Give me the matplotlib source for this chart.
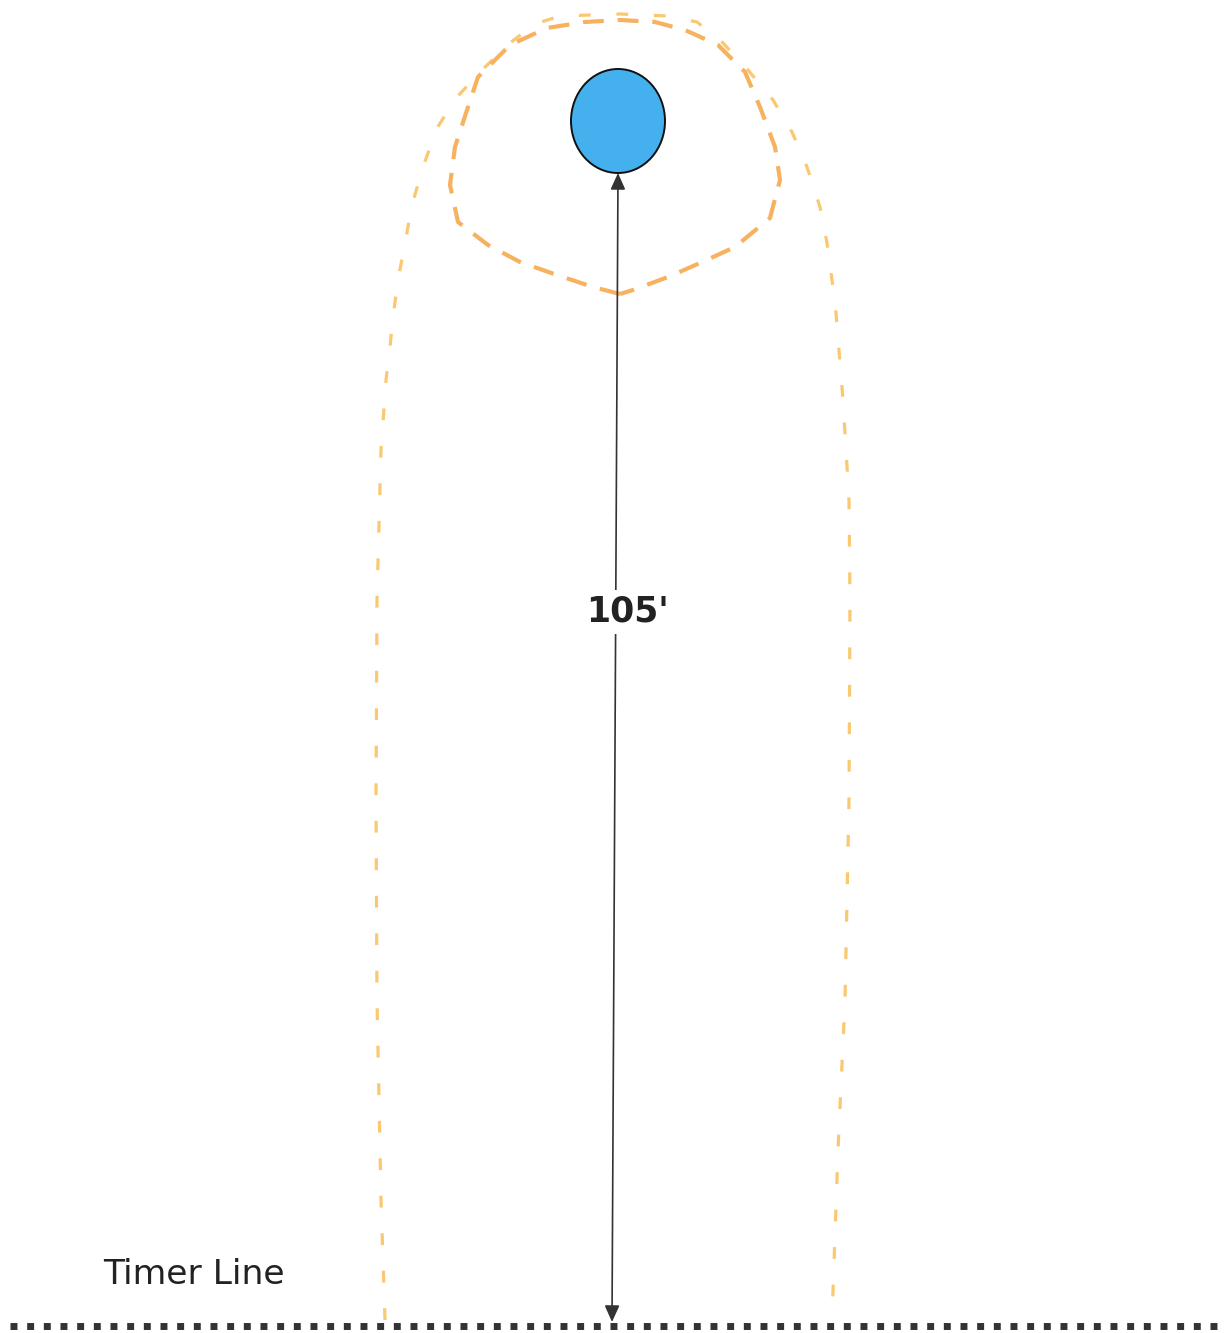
import matplotlib
matplotlib.use("Agg")
import matplotlib.pyplot as plt
from matplotlib.patches import Ellipse

plt.rcParams['lines.scale_dashes'] = False

# Diagram data (pixel coordinates of the pattern, y down)
outer_x = [385, 381, 377, 376, 377, 381, 386, 390, 393, 398, 405, 412, 423, 437, 457, 482, 510, 535, 560, 620,
           668, 697, 723, 748, 773, 792, 807, 820, 827, 832, 836, 843, 849, 850, 849, 845, 838, 832]
outer_y = [1320, 1200, 1000, 800, 600, 450, 380, 347, 317, 280, 243, 205, 167, 128, 97, 70, 43, 24, 16, 14,
           16, 22, 43, 70, 100, 132, 167, 207, 243, 280, 313, 400, 500, 600, 800, 1000, 1150, 1320]

inner_x = [620, 593, 557, 520, 488, 458, 450, 455, 467, 478, 510, 547, 585, 620, 655, 685, 718, 745, 760,
           775, 780, 770, 735, 700, 668, 633, 620]
inner_y = [294, 287, 275, 262, 245, 222, 185, 147, 110, 77, 45, 28, 22, 20, 22, 30, 45, 72, 107,
           147, 180, 218, 247, 263, 277, 290, 294]

barrel_center = (618, 121)
barrel_size = (94, 104)

arrow_start = (612, 1322)
arrow_end = (618, 173)
distance_label = "105'"

timer_x = [10, 1225]
timer_y = [1326, 1326]
timer_label = "Timer Line"

fig = plt.figure(figsize=(12.25, 13.33), dpi=100)
ax = fig.add_axes([0, 0, 1, 1])
ax.set_xlim(0, 1225)
ax.set_ylim(1333, 0)
ax.axis('off')

# outer path
ax.plot(outer_x, outer_y, color='#f9c870', lw=2.3, dashes=(8.5, 18.5),
        dash_capstyle='butt', dash_joinstyle='round', zorder=2)
# inner loop around barrel
ax.plot(inner_x, inner_y, color='#f7b260', lw=3.0, dashes=(15, 10),
        dash_capstyle='butt', dash_joinstyle='round', zorder=2)

# barrel
ax.add_patch(Ellipse(barrel_center, barrel_size[0], barrel_size[1], facecolor='#45b0ee',
                     edgecolor='#111111', lw=1.4, zorder=4))

# distance arrow
ax.annotate('', xy=arrow_end, xytext=arrow_start,
            arrowprops=dict(arrowstyle='<|-|>,head_length=1.0,head_width=0.45', color='#333333',
                            lw=1.2, shrinkA=0, shrinkB=0), zorder=3)
ax.text(627, 612, distance_label, fontsize=25, fontweight='bold', color='#222222',
        ha='center', va='center', zorder=5,
        bbox=dict(boxstyle='square,pad=0.15', facecolor='white', edgecolor='none'))

# timer line
ax.plot(timer_x, timer_y, color='#333333', lw=5.0, dashes=(5.0, 7.0), dash_capstyle='butt', zorder=3)
ax.text(103, 1284, timer_label, fontsize=24.8, color='#222222', ha='left', va='baseline')

fig.savefig('out.png', dpi=100, facecolor='white')
